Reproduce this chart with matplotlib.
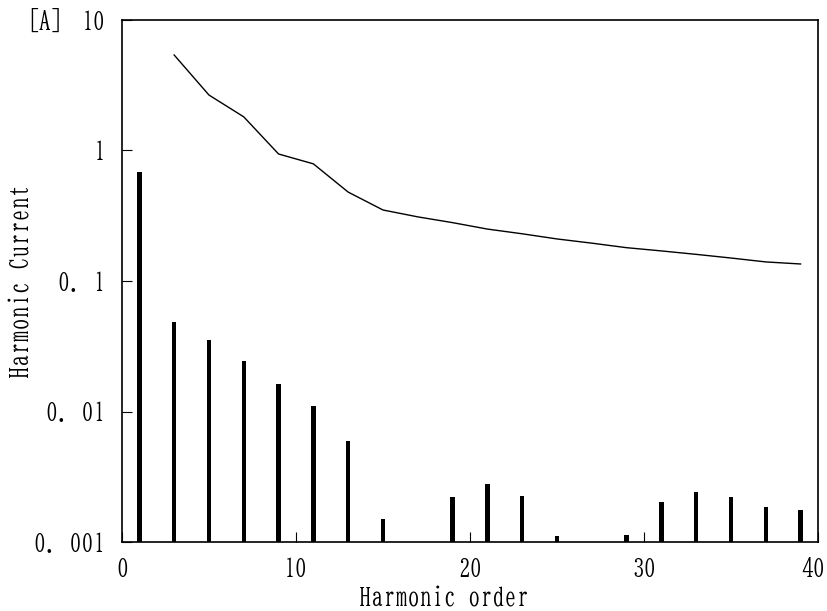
import matplotlib
matplotlib.use("Agg")
import matplotlib.pyplot as plt
import matplotlib.ticker as mticker
import matplotlib.transforms as mtransforms

# Measured harmonic currents (odd orders)
orders = [1, 3, 5, 7, 9, 11, 13, 15, 19, 21, 23, 25, 29, 31, 33, 35, 37, 39]
currents = [0.68, 0.0485, 0.0353, 0.0244, 0.0163, 0.011, 0.0059, 0.0015,
            0.00221, 0.00278, 0.00225, 0.00111, 0.00113, 0.00203, 0.00242,
            0.00221, 0.00185, 0.00176]

# Limit curve
limit_orders = [3, 5, 7, 9, 11, 13, 15, 17, 19, 21, 23, 25, 27, 29, 31, 33, 35, 37, 39]
limit_values = [5.39, 2.66, 1.81, 0.94, 0.79, 0.48, 0.35, 0.31, 0.28, 0.25,
                0.23, 0.21, 0.195, 0.18, 0.17, 0.16, 0.15, 0.14, 0.135]

y_ticks = [0.001, 0.01, 0.1, 1, 10]
y_tick_labels = ["0. 001", "0. 01", "0. 1", "1", "10"]
x_ticks = [0, 10, 20, 30, 40]

plt.rcParams["font.family"] = ["BIZ UDMincho", "Noto Serif CJK JP", "DejaVu Serif"]
TICK_FS = 17
LABEL_FS = 17.5

fig = plt.figure(figsize=(8.28, 6.11), dpi=100)
ax = fig.add_axes([0.1473, 0.1129, 0.8406, 0.8544])

ax.set_yscale("log")
ax.set_xlim(0, 40)
ax.set_ylim(0.001, 10)

ax.bar(orders, [c - 0.001 for c in currents], bottom=0.001, width=0.25,
       color="black", linewidth=0)
ax.plot(limit_orders, limit_values, color="black", linewidth=1.0)

ax.set_yticks(y_ticks)
ax.set_yticklabels(y_tick_labels)
ax.yaxis.set_minor_locator(mticker.NullLocator())
ax.set_xticks(x_ticks)
ax.tick_params(axis="both", direction="in", length=7, width=0.8,
               labelsize=TICK_FS)
ax.tick_params(axis="x", pad=11)
ax.tick_params(axis="y", pad=12)

# keep the last x tick label inside the figure edge
last = ax.get_xticklabels()[-1]
last.set_transform(last.get_transform() +
                   mtransforms.ScaledTranslation(-5 / 100, 0, fig.dpi_scale_trans))

for s in ax.spines.values():
    s.set_linewidth(1.2)

ax.set_xlabel("Harmonic order", fontsize=LABEL_FS)
ax.xaxis.set_label_coords(0.462, -0.086)
ax.set_ylabel("Harmonic Current", fontsize=LABEL_FS)
ax.yaxis.set_label_coords(-0.129, 0.5)

fig.text(0.054, 0.966, "[A]", fontsize=TICK_FS, ha="center", va="center")

fig.savefig("out.png", dpi=100)
